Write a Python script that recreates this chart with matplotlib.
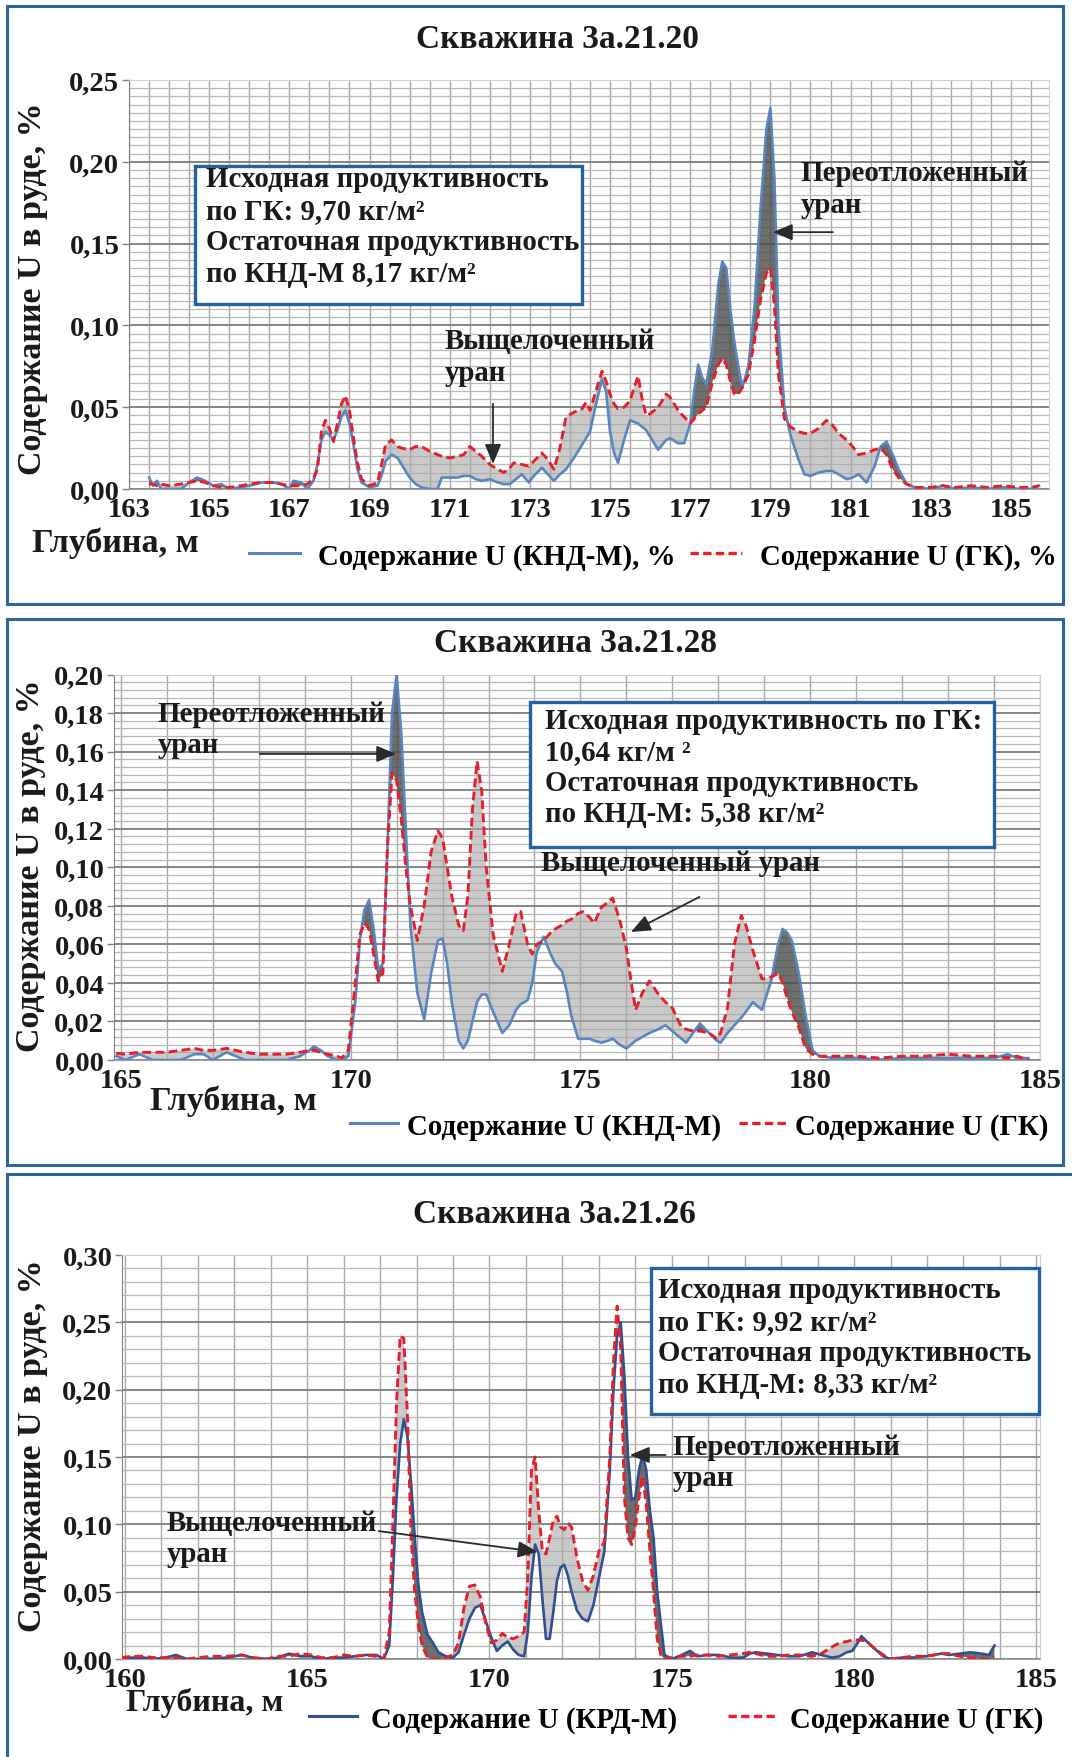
import numpy as np
import matplotlib
matplotlib.use('Agg')
import matplotlib.pyplot as plt
from matplotlib.patches import Rectangle
from matplotlib.lines import Line2D
from matplotlib.ticker import MultipleLocator, FuncFormatter

plt.rcParams['font.family'] = ['Liberation Serif', 'DejaVu Serif']
plt.rcParams['font.weight'] = 'bold'

# ---------------- data: Скважина 3а.21.20 ----------------
depth1 = [163.5, 163.6, 163.7, 163.8, 164.0, 164.3, 164.5, 164.7, 164.9, 165.1,
          165.3, 165.5, 165.8, 166.0, 166.3, 166.6, 166.8, 167.0, 167.1, 167.3,
          167.45, 167.6, 167.7, 167.8, 167.9, 168.0, 168.1, 168.2, 168.3, 168.4,
          168.5, 168.6, 168.7, 168.8, 169.0, 169.2, 169.3, 169.4, 169.55, 169.7,
          169.8, 170.0, 170.15, 170.3, 170.5, 170.7, 170.8, 171.0, 171.2, 171.35,
          171.5, 171.65, 171.8, 172.0, 172.2, 172.35, 172.5, 172.6, 172.8, 172.97,
          173.1, 173.3, 173.45, 173.6, 173.75, 173.9, 174.1, 174.3, 174.4, 174.5,
          174.65, 174.8, 174.9, 175.0, 175.1, 175.2, 175.35, 175.5, 175.6, 175.7,
          175.8, 175.9, 176.0, 176.2, 176.4, 176.5, 176.7, 176.85, 177.0, 177.1,
          177.2, 177.3, 177.4, 177.55, 177.7, 177.8, 177.9, 178.0, 178.1, 178.2,
          178.3, 178.45, 178.6, 178.75, 178.9, 179.0, 179.1, 179.2, 179.35, 179.5,
          179.7, 179.85, 180.0, 180.2, 180.4, 180.55, 180.7, 180.9, 181.05, 181.2,
          181.4, 181.6, 181.75, 181.9, 182.05, 182.2, 182.4, 182.6, 183.0, 183.3,
          183.6, 184.0, 184.4, 184.8, 185.2, 185.5, 185.7]
kne1 = [.007, .002, .005, .000, .000, .000, .004, .007, .005, .002,
        .003, .000, .001, .002, .004, .004, .003, .000, .005, .004,
        .000, .005, .015, .030, .035, .033, .030, .036, .044, .048,
        .040, .027, .012, .004, .001, .002, .008, .017, .021, .019,
        .015, .007, .003, .001, .000, .000, .007, .007, .007, .008,
        .008, .006, .005, .006, .004, .003, .003, .005, .009, .004,
        .008, .013, .009, .005, .009, .012, .019, .027, .031, .035,
        .052, .067, .060, .035, .022, .016, .030, .042, .041, .040,
        .038, .036, .032, .024, .030, .031, .028, .028, .040, .060,
        .076, .068, .064, .085, .125, .139, .135, .110, .090, .075,
        .062, .075, .110, .170, .220, .233, .190, .100, .050, .033,
        .018, .009, .008, .010, .011, .011, .009, .006, .007, .009,
        .004, .014, .026, .029, .021, .012, .003, .001, .000, .002,
        .000, .001, .000, .001, .000, .000, .002]
gk1 = [.003, .003, .002, .003, .002, .003, .004, .005, .004, .002,
       .001, .001, .002, .003, .004, .004, .003, .002, .002, .002,
       .003, .006, .012, .035, .042, .037, .029, .040, .052, .057,
       .048, .031, .016, .006, .002, .004, .015, .027, .030, .026,
       .025, .024, .026, .026, .023, .021, .020, .019, .020, .021,
       .026, .023, .020, .015, .012, .010, .013, .016, .015, .014,
       .017, .022, .018, .012, .025, .044, .047, .049, .053, .048,
       .060, .072, .066, .058, .052, .049, .050, .054, .062, .069,
       .055, .045, .046, .050, .058, .056, .048, .044, .040, .043,
       .046, .048, .050, .065, .076, .080, .076, .066, .058, .058,
       .062, .070, .090, .115, .132, .135, .112, .070, .043, .038,
       .035, .034, .034, .037, .042, .039, .034, .030, .026, .021,
       .022, .024, .025, .021, .012, .007, .003, .001, .001, .002,
       .001, .002, .001, .002, .001, .001, .002]

# ---------------- data: Скважина 3а.21.28 ----------------
depth2 = [164.9, 165.1, 165.4, 165.7, 166.0, 166.3, 166.6, 166.8, 167.0, 167.3,
          167.5, 167.7, 168.0, 168.3, 168.6, 168.9, 169.1, 169.2, 169.35, 169.5,
          169.7, 169.8, 169.95, 170.1, 170.2, 170.3, 170.4, 170.5, 170.6, 170.7,
          170.8, 170.9, 171.0, 171.1, 171.2, 171.3, 171.45, 171.6, 171.75, 171.9,
          172.0, 172.1, 172.2, 172.35, 172.45, 172.55, 172.65, 172.75, 172.85, 172.95,
          173.1, 173.3, 173.45, 173.6, 173.7, 173.85, 173.95, 174.05, 174.2, 174.35,
          174.45, 174.6, 174.7, 174.8, 174.95, 175.05, 175.2, 175.3, 175.45, 175.6,
          175.7, 175.85, 176.0, 176.1, 176.2, 176.35, 176.5, 176.7, 176.85, 177.0,
          177.2, 177.3, 177.45, 177.6, 177.8, 177.97, 178.05, 178.2, 178.35, 178.5,
          178.6, 178.75, 178.95, 179.15, 179.3, 179.4, 179.5, 179.6, 179.75, 179.9,
          180.05, 180.2, 180.5, 181.0, 181.5, 182.0, 182.5, 183.0, 183.5, 184.0,
          184.3, 184.5, 184.75]
kne2 = [.002, .000, .003, .000, .000, .000, .003, .003, .000, .004,
        .002, .000, .000, .000, .000, .002, .005, .007, .005, .002,
        .000, .000, .002, .030, .062, .078, .083, .068, .047, .050,
        .110, .180, .200, .170, .120, .070, .035, .021, .045, .062,
        .063, .050, .030, .010, .006, .010, .020, .030, .034, .034,
        .025, .014, .018, .026, .029, .031, .040, .056, .064, .055,
        .050, .046, .036, .023, .011, .011, .011, .010, .009, .010,
        .011, .008, .006, .008, .010, .012, .014, .016, .018, .015,
        .011, .009, .014, .019, .014, .010, .009, .014, .018, .022,
        .025, .030, .026, .041, .060, .068, .066, .062, .045, .023,
        .005, .002, .001, .001, .000, .001, .001, .001, .001, .001,
        .003, .001, .001]
gk2 = [.0035, .003, .004, .004, .004, .005, .006, .005, .005, .006,
       .005, .004, .003, .003, .003, .004, .005, .005, .004, .003,
       .002, .001, .005, .040, .065, .071, .068, .055, .041, .045,
       .110, .149, .145, .125, .100, .080, .062, .080, .108, .119,
       .115, .100, .085, .070, .067, .085, .130, .155, .140, .100,
       .065, .046, .060, .076, .077, .060, .055, .060, .062, .066,
       .068, .070, .072, .073, .076, .077, .074, .071, .079, .082,
       .084, .073, .058, .041, .026, .035, .041, .034, .030, .027,
       .017, .016, .015, .015, .014, .011, .014, .027, .060, .075,
       .070, .057, .042, .043, .045, .040, .032, .025, .017, .006,
       .003, .002, .002, .002, .001, .002, .002, .003, .002, .002,
       .001, .002, .000]

# ---------------- data: Скважина 3а.21.26 ----------------
depth3 = [159.9, 160.2, 160.5, 160.8, 161.1, 161.4, 161.7, 162.0, 162.4, 162.8,
          163.2, 163.5, 163.9, 164.2, 164.5, 164.8, 165.1, 165.4, 165.7, 166.0,
          166.3, 166.6, 166.9, 167.1, 167.25, 167.35, 167.45, 167.55, 167.65, 167.75,
          167.85, 167.95, 168.05, 168.15, 168.3, 168.45, 168.6, 168.8, 169.0, 169.15,
          169.3, 169.45, 169.6, 169.75, 169.9, 170.05, 170.2, 170.35, 170.5, 170.65,
          170.8, 170.95, 171.05, 171.15, 171.25, 171.35, 171.45, 171.55, 171.65, 171.75,
          171.85, 171.95, 172.05, 172.15, 172.25, 172.4, 172.55, 172.7, 172.85, 173.0,
          173.15, 173.3, 173.4, 173.5, 173.6, 173.7, 173.8, 173.9, 174.0, 174.1,
          174.2, 174.3, 174.4, 174.5, 174.6, 174.7, 174.8, 175.0, 175.2, 175.5,
          175.7, 176.0, 176.3, 176.6, 176.95, 177.15, 177.3, 177.6, 177.9, 178.2,
          178.5, 178.85, 179.1, 179.4, 179.6, 179.8, 179.95, 180.1, 180.2, 180.35,
          180.55, 180.8, 181.0, 181.3, 181.6, 181.95, 182.2, 182.4, 182.6, 182.9,
          183.2, 183.5, 183.7, 183.85]
krd3 = [.000, .001, .001, .000, .001, .003, .000, .000, .000, .001,
        .003, .001, .000, .001, .004, .002, .002, .000, .001, .001,
        .002, .003, .003, .000, .010, .060, .120, .160, .178, .165,
        .130, .090, .055, .035, .018, .012, .005, .002, .001, .005,
        .018, .030, .038, .040, .028, .016, .006, .010, .013, .007,
        .003, .002, .020, .060, .085, .078, .045, .015, .015, .035,
        .058, .068, .070, .062, .050, .036, .030, .028, .040, .060,
        .080, .140, .200, .240, .250, .210, .150, .118, .120, .140,
        .152, .140, .110, .090, .050, .026, .003, .000, .002, .006,
        .002, .003, .003, .001, .001, .004, .005, .004, .003, .002,
        .002, .005, .003, .001, .002, .005, .006, .012, .017, .013,
        .008, .002, .000, .001, .001, .002, .003, .004, .003, .004,
        .005, .004, .003, .010]
gk3 = [.001, .002, .002, .001, .001, .001, .000, .001, .002, .002,
       .003, .001, .000, .002, .002, .004, .003, .001, .001, .003,
       .002, .003, .002, .000, .020, .100, .190, .240, .238, .180,
       .090, .050, .025, .010, .001, .000, .000, .001, .003, .012,
       .038, .054, .055, .046, .026, .012, .014, .019, .016, .015,
       .017, .020, .060, .140, .150, .110, .080, .078, .090, .103,
       .106, .098, .096, .101, .098, .075, .058, .051, .062, .080,
       .087, .150, .220, .262, .230, .120, .090, .085, .098, .120,
       .136, .115, .080, .050, .015, .003, .000, .001, .002, .002,
       .003, .003, .002, .003, .004, .005, .004, .002, .002, .003,
       .003, .002, .004, .009, .012, .013, .014, .014, .014, .013,
       .008, .003, .000, .001, .002, .002, .003, .004, .004, .002,
       .001, .000, .000, .001]

titles = ['Скважина 3а.21.20', 'Скважина 3а.21.28', 'Скважина 3а.21.26']
legend_blue = ['Содержание U (КНД-М), %', 'Содержание U (КНД-М)', 'Содержание U (КРД-М)']
legend_red = ['Содержание U (ГК), %', 'Содержание U (ГК)', 'Содержание U (ГК)']
info_texts = [
    'Исходная продуктивность\nпо ГК: 9,70 кг/м²\nОстаточная продуктивность\nпо КНД-М 8,17 кг/м²',
    'Исходная продуктивность по ГК:\n10,64 кг/м ²\nОстаточная продуктивность\nпо КНД-М: 5,38 кг/м²',
    'Исходная продуктивность\nпо ГК: 9,92 кг/м²\nОстаточная продуктивность\nпо КНД-М: 8,33 кг/м²',
]
ylabel = 'Содержание U в руде, %'
xlabel = 'Глубина, м'
redeposited = 'Переотложенный\nуран'
leached = ['Выщелоченный\nуран', 'Выщелоченный уран', 'Выщелоченный\nуран']

# ---------------- layout ----------------
W, H = 1072, 1758
fig = plt.figure(figsize=(W / 100, H / 100), dpi=100)
fig.patch.set_facecolor('white')


def fx(p):
    return p / W


def fy(p):
    return 1 - p / H


FS = 20.8
TICK_FS = 20.5
BORDER = '#2b679c'
RED = '#e5202a'
TXT = '#1a1a1a'
comma = FuncFormatter(lambda v, p: f'{v:.2f}'.replace('.', ','))
intfmt = FuncFormatter(lambda v, p: f'{v:.0f}')

panels = [
    dict(depth=depth1, blue=kne1, red=gk1, rect=(129, 81, 1049, 490), xlim=(163, 185.95),
         ylim=(0, 0.25), xticks=np.arange(163, 186, 2), xminor=0.5, ymajor=0.05, yminor=0.005,
         bcol='#5a86c0', box=(7, 7, 1063, 605), title_xy=(557, 40),
         ylab_xy=(33, 289), xlab_xy=(115, 543), xlab_fs=24.5, leg_xy=(249, 557),
         leg_kw=dict(handlelength=1.78, handletextpad=0.62, columnspacing=0.5),
         info_rect=(195, 167, 582, 305), info_xy=(206, 227), info_ls=1.21,
         redep_text=(179.76, 0.1837), redep_tail=(180.56, 0.157), redep_tip=(179.06, 0.157),
         leach_text=(170.88, 0.0809), leach_tail=(172.08, 0.052), leach_tip=(172.08, 0.0153)),
    dict(depth=depth2, blue=kne2, red=gk2, rect=(114, 675.5, 1040, 1061), xlim=(164.85, 185),
         ylim=(0, 0.20), xticks=np.arange(165, 186, 5), xminor=1, ymajor=0.02, yminor=0.004,
         bcol='#5a86c0', box=(7, 620, 1063, 1166), title_xy=(576, 643),
         ylab_xy=(31, 866), xlab_xy=(233, 1101), xlab_fs=24.5, leg_xy=(350, 1127),
         leg_kw=dict(handlelength=1.66, handletextpad=0.3, columnspacing=0.62),
         info_rect=(530, 703, 994, 848), info_xy=(545, 768), info_ls=1.2,
         redep_text=(165.8, 0.1717), redep_tail=(168.02, 0.1588), redep_tip=(170.99, 0.1588),
         leach_text=(174.14, 0.1025), leach_tail=(177.59, 0.0846), leach_tip=(176.1, 0.0664)),
    dict(depth=depth3, blue=krd3, red=gk3, rect=(122, 1256, 1040, 1660), xlim=(159.92, 185.1),
         ylim=(0, 0.30), xticks=np.arange(160, 186, 5), xminor=1, ymajor=0.05, yminor=0.01,
         bcol='#2f5093', box=(7, 1175, 1072, 1758), title_xy=(554, 1215),
         ylab_xy=(33, 1446), xlab_xy=(205, 1703), xlab_fs=23, leg_xy=(309, 1720),
         leg_kw=dict(handlelength=1.66, handletextpad=0.5, columnspacing=1.75),
         info_rect=(651, 1269, 1039, 1415), info_xy=(658, 1338), info_ls=1.22,
         redep_text=(175.03, 0.1463), redep_tail=(174.83, 0.1515), redep_tip=(173.85, 0.1515),
         leach_text=(161.15, 0.0898), leach_tail=(166.96, 0.095), leach_tip=(171.32, 0.0795)),
]

for i, p in enumerate(panels):
    l, t, r, b = p['rect']
    ax = fig.add_axes([fx(l), fy(b), (r - l) / W, (b - t) / H])
    ax.set_facecolor('white')
    d = np.array(p['depth'])
    kb = np.array(p['blue'])
    kr = np.array(p['red'])

    ax.fill_between(d, kb, kr, where=kr >= kb, interpolate=True,
                    color='#a8a8a8', alpha=0.6, lw=0, zorder=2)
    ax.fill_between(d, kb, kr, where=kb > kr, interpolate=True,
                    color='#4a4a4a', alpha=0.8, lw=0, zorder=2)
    ax.plot(d, kb, color=p['bcol'], lw=1.9, zorder=3, solid_joinstyle='round')
    ax.plot(d, kr, color=RED, lw=2.1, dashes=(3, 1.5), zorder=4)

    ax.set_xlim(*p['xlim'])
    ax.set_ylim(*p['ylim'])
    ax.set_xticks(p['xticks'])
    ax.xaxis.set_major_formatter(intfmt)
    ax.xaxis.set_minor_locator(MultipleLocator(p['xminor']))
    ax.yaxis.set_major_locator(MultipleLocator(p['ymajor']))
    ax.yaxis.set_minor_locator(MultipleLocator(p['yminor']))
    ax.yaxis.set_major_formatter(comma)
    ax.set_axisbelow(True)
    ax.grid(True, which='both', axis='x', color='#a9a9a9', lw=1.0)
    ax.grid(True, which='major', axis='y', color='#858585', lw=1.4)
    ax.grid(True, which='minor', axis='y', color='#b9b9b9', lw=0.9)
    ax.tick_params(which='minor', length=0)
    ax.tick_params(axis='x', which='major', length=0, pad=6, labelsize=TICK_FS)
    ax.tick_params(axis='y', which='major', length=5, width=1, color='#808080',
                   pad=2, labelsize=TICK_FS)
    for lab in ax.get_xticklabels() + ax.get_yticklabels():
        lab.set_fontweight('bold')
        lab.set_color(TXT)
    for side in ['top', 'right']:
        ax.spines[side].set_color('#d0d0d0')
    ax.spines['left'].set_color('#808080')
    ax.spines['bottom'].set_color('#a0a0a0')

    # panel frame
    bx0, by0, bx1, by1 = p['box']
    if i < 2:
        fig.add_artist(Rectangle((fx(bx0), fy(by1)), (bx1 - bx0) / W, (by1 - by0) / H,
                                 transform=fig.transFigure, fill=False,
                                 edgecolor=BORDER, lw=2.2, zorder=10))
    else:
        fig.add_artist(Line2D([fx(bx0), fx(bx1)], [fy(by0), fy(by0)],
                              transform=fig.transFigure, color=BORDER, lw=2.2, zorder=10))
        fig.add_artist(Line2D([fx(bx0), fx(bx0)], [fy(by0), fy(by1)],
                              transform=fig.transFigure, color=BORDER, lw=2.2, zorder=10))

    fig.text(fx(p['title_xy'][0]), fy(p['title_xy'][1]), titles[i], ha='center',
             va='center', fontsize=24, fontweight='bold', color=TXT)
    fig.text(fx(p['ylab_xy'][0]), fy(p['ylab_xy'][1]), ylabel, rotation=90, ha='center',
             va='center', fontsize=24.5, fontweight='bold', color=TXT)
    fig.text(fx(p['xlab_xy'][0]), fy(p['xlab_xy'][1]), xlabel, ha='center',
             va='center', fontsize=p['xlab_fs'], fontweight='bold', color=TXT)

    handles = [Line2D([], [], color=p['bcol'], lw=2.2),
               Line2D([], [], color=RED, lw=2.4, dashes=(2.5, 1.3))]
    ax.legend(handles, [legend_blue[i], legend_red[i]], loc='center left',
              bbox_to_anchor=(fx(p['leg_xy'][0]), fy(p['leg_xy'][1])),
              bbox_transform=fig.transFigure, ncol=2, frameon=False,
              borderpad=0, borderaxespad=0,
              prop=dict(size=FS, weight='bold'), **p['leg_kw'])

    # information box
    ix0, iy0, ix1, iy1 = p['info_rect']
    fig.add_artist(Rectangle((fx(ix0), fy(iy1)), (ix1 - ix0) / W, (iy1 - iy0) / H,
                             transform=fig.transFigure, facecolor='white',
                             edgecolor='#23639f', lw=2.4, zorder=11))
    fig.text(fx(p['info_xy'][0]), fy(p['info_xy'][1]), info_texts[i], ha='left',
             va='center', fontsize=FS, fontweight='bold', color=TXT,
             linespacing=p['info_ls'], zorder=12)

    # annotations
    ax.text(*p['redep_text'], redeposited, ha='left', va='center', fontsize=FS,
            fontweight='bold', color=TXT, linespacing=1.23, zorder=6)
    ax.annotate('', xy=p['redep_tip'], xytext=p['redep_tail'],
                arrowprops=dict(arrowstyle='-|>,head_length=0.6,head_width=0.25',
                                mutation_scale=20, color='#2a2a2a', lw=1.3,
                                shrinkA=0, shrinkB=0), zorder=6)
    ax.text(*p['leach_text'], leached[i], ha='left', va='center', fontsize=FS,
            fontweight='bold', color=TXT, linespacing=1.23, zorder=6)
    ax.annotate('', xy=p['leach_tip'], xytext=p['leach_tail'],
                arrowprops=dict(arrowstyle='-|>,head_length=0.6,head_width=0.25',
                                mutation_scale=20, color='#2a2a2a', lw=1.3,
                                shrinkA=0, shrinkB=0), zorder=6)

fig.savefig('out.png', dpi=100, facecolor='white')
